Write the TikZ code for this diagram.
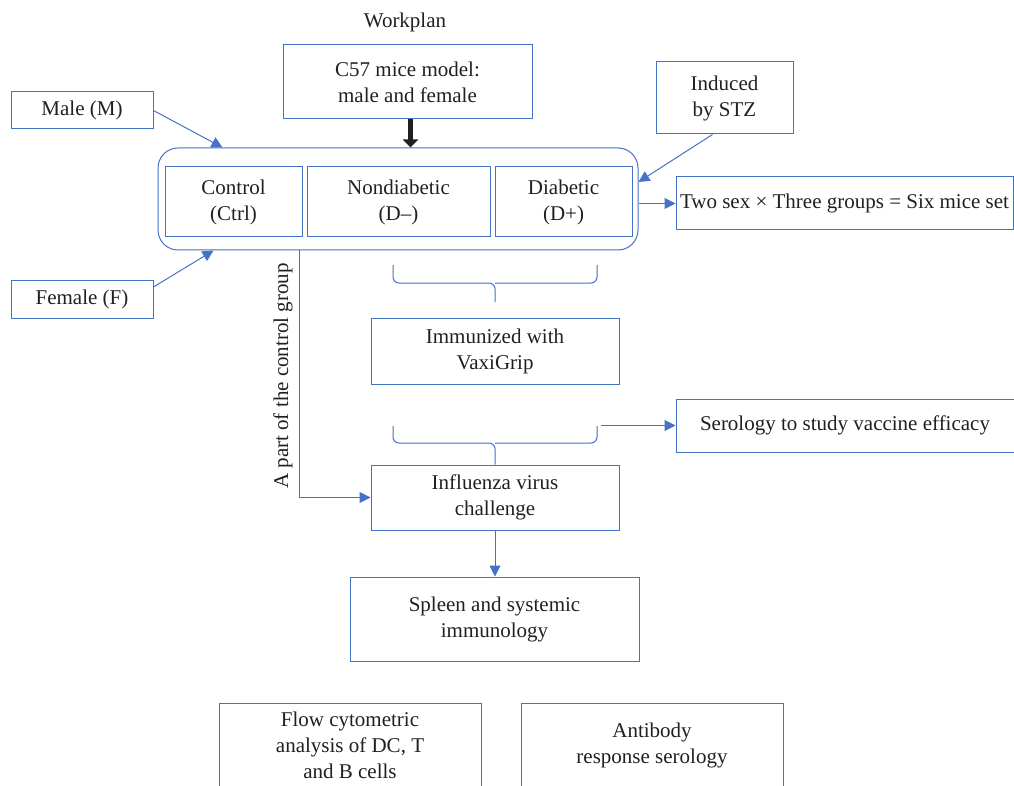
\documentclass[tikz,border=0pt]{standalone}
\usepackage{fontspec}
\setmainfont{Liberation Serif}
\usetikzlibrary{positioning, arrows.meta, calc}
\definecolor{wordblue}{HTML}{4472C4}
\definecolor{inkgray}{HTML}{231F20}

\begin{document}
\begin{tikzpicture}[
  x=1pt, y=-1pt,
  every node/.style={font=\fontsize{21}{26}\selectfont, text=inkgray},
  box/.style={draw=wordblue, line width=1pt, align=center, inner sep=2pt},
  grp/.style={draw=wordblue, line width=1pt, rounded corners=20pt,
              minimum width=480pt, minimum height=102pt},
  arr/.style={-{Triangle[length=11pt, width=11pt]}, draw=wordblue, line width=1pt},
  bigarr/.style={-{Triangle[length=8pt, width=15pt]}, draw=inkgray, line width=5pt},
  brace/.style={draw=wordblue, line width=1pt, rounded corners=6pt},
]
\useasboundingbox (0,0) rectangle (1014,786);

% Title
\node (title) at (405,22) {Workplan};

% Mice model
\node[box, minimum width=249pt, minimum height=74pt] (model) at (407.5,82)
  {C57 mice model:\\male and female};

% Groups
\node[grp] (group) at (398,199) {};
\node[box, minimum width=137pt, minimum height=70pt] (ctrl) at (233.5,202) {Control\\(Ctrl)};
\node[box, minimum width=183pt, minimum height=70pt] (nond) at (398.5,202) {Nondiabetic\\(D--)};
\node[box, minimum width=137pt, minimum height=70pt] (diab) at (563.5,202) {Diabetic\\(D+)};

% Sex and induction
\node[box, minimum width=142pt, minimum height=37pt] (male) at (82,110.5) {Male (M)};
\node[box, minimum width=142pt, minimum height=38pt] (female) at (82,299) {Female (F)};
\node[box, minimum width=137pt, minimum height=72pt] (stz) at (724.5,98) {Induced\\by STZ};
\node[box, minimum width=337pt, minimum height=53pt] (sets) at (844.5,203.5)
  {Two sex × Three groups = Six mice set};

% Protocol
\node[box, minimum width=248pt, minimum height=66pt] (immun) at (495,351) {Immunized with\\VaxiGrip};
\node[box, minimum width=248pt, minimum height=65pt] (flu) at (495,497.5) {Influenza virus\\challenge};
\node[box, minimum width=338pt, minimum height=53pt] (sero) at (845,425.5)
  {Serology to study vaccine efficacy};
\node[box, minimum width=289pt, minimum height=84pt] (spleen) at (494.5,619) {Spleen and systemic\\immunology};

% Readouts
\node[box, minimum width=262pt, minimum height=84pt] (flow) at (350,745)
  {Flow cytometric\\analysis of DC, T\\and B cells};
\node[box, minimum width=262pt, minimum height=84pt] (antib) at (652,745)
  {Antibody\\response serology};

% Braces
\coordinate (b1l) at (393,265);
\coordinate (b1r) at (597,265);
\coordinate (b1mid) at (495,283);
\coordinate (b1tip) at (495,302);
\coordinate (b2l) at (393,426);
\coordinate (b2r) at (597,426);
\coordinate (b2mid) at (495,443);
\draw[brace] (b1l) |- (b1mid) -- (b1tip);
\draw[brace] (b1r) |- (b1mid);
\draw[brace] (b2l) |- (b2mid) -- (flu.north);
\draw[brace] (b2r) |- (b2mid);

% Arrows
\draw[bigarr] ([xshift=3pt]model.south) -- ([xshift=3pt]model.south |- group.north);
\draw[arr] (male.east) -- ([xshift=-11pt]ctrl.center |- group.north);
\draw[arr] ([yshift=12pt]female.east) -- ([xshift=-20pt]ctrl.center |- group.south);
\draw[arr] (stz.south) ++(-12pt,0) -- ([yshift=17pt]group.east);
\draw[arr] (sets.west -| group.east) -- (sets.west);
\draw[arr] ([xshift=-3pt]ctrl.south east |- group.south) |- (flu.west);
\draw[arr] ([xshift=4pt]sero.west -| b2r) -- (sero.west);
\draw[arr] (flu.south) -- (flu.south |- spleen.north);

% Side label
\node[rotate=90] (part) at (283,376) {A part of the control group};

\end{tikzpicture}
\end{document}
